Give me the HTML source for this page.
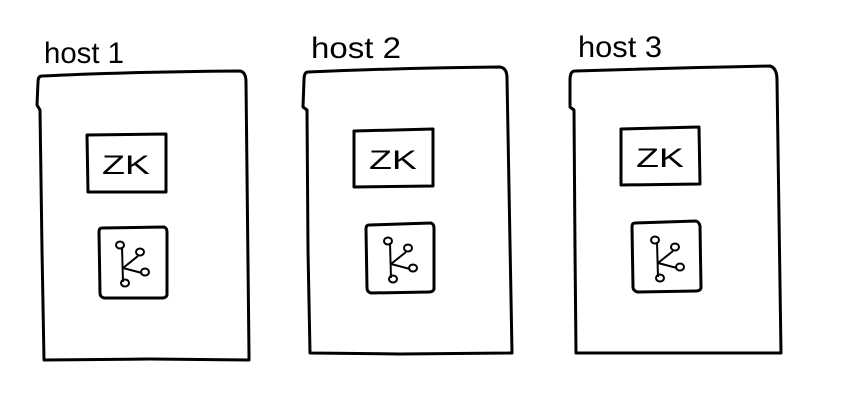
<!DOCTYPE html>
<html><head><style>
html,body{margin:0;padding:0;background:#fff;}
svg{display:block;}
text{font-family:"Liberation Sans",sans-serif;fill:#000;}
</style></head><body>
<svg width="851" height="406" viewBox="0 0 851 406" xmlns="http://www.w3.org/2000/svg">
<g fill="none" stroke="#000" stroke-width="3" stroke-linejoin="round" stroke-linecap="round">
<path d="M42,76 Q120,72 240,71 Q246,72 246,82 L249,355 L249,360 L150,359 L44,360 L42,250 L40,110 L37,105 L38,82 Q38,76 42,76 Z"/>
<path d="M87,135 L166,134 L166,192 L88,192 Z"/>
<path d="M102,228 L164,227 Q167,228 167,232 L167,295 Q166,298 162,298 L104,298 Q100,297 100,293 L99,232 Q99,228 102,228 Z"/>
<path d="M308,72 Q400,68 500,67 Q507,68 507,78 L512,353 L400,354 L310,353 L308,250 L307,110 L303,107 L304,80 Q304,72 308,72 Z"/>
<path d="M354,131 L433,129 L433,186 L354,187 Z"/>
<path d="M369,225 L431,223 Q434,224 434,228 L434,289 Q433,292 429,292 L371,293 Q367,292 367,288 L366,229 Q366,225 369,225 Z"/>
<path d="M575,71 Q670,68 770,66 Q777,68 777,80 L781,353 L680,353 L576,353 L575,250 L574,110 L570,107 L570,80 Q570,71 575,71 Z"/>
<path d="M621,129 L699,127 L700,184 L621,185 Z"/>
<path d="M635,223 L696,221 Q699,222 700,226 L701,288 Q700,291 696,291 L638,292 Q633,291 633,287 L632,227 Q632,223 635,223 Z"/>
</g>
<g fill="none" stroke="#000" stroke-width="2">
<g>
<path d="M122,247 L123,282 M123,268 L138,256 M123,268 L142,273"/>
<ellipse cx="120" cy="245" rx="4" ry="3.5"/><ellipse cx="140" cy="252" rx="4" ry="3.5"/><ellipse cx="145" cy="272" rx="4" ry="3.5"/><ellipse cx="125" cy="283" rx="4" ry="3.5"/>
</g>
<g transform="translate(268,-4)">
<path d="M122,247 L123,282 M123,268 L138,256 M123,268 L142,273"/>
<ellipse cx="120" cy="245" rx="4" ry="3.5"/><ellipse cx="140" cy="252" rx="4" ry="3.5"/><ellipse cx="145" cy="272" rx="4" ry="3.5"/><ellipse cx="125" cy="283" rx="4" ry="3.5"/>
</g>
<g transform="translate(535,-5)">
<path d="M122,247 L123,282 M123,268 L138,256 M123,268 L142,273"/>
<ellipse cx="120" cy="245" rx="4" ry="3.5"/><ellipse cx="140" cy="252" rx="4" ry="3.5"/><ellipse cx="145" cy="272" rx="4" ry="3.5"/><ellipse cx="125" cy="283" rx="4" ry="3.5"/>
</g>
</g>
<text x="102" y="174" font-size="27" textLength="48" lengthAdjust="spacingAndGlyphs">ZK</text>
<text x="369" y="169" font-size="27" textLength="48" lengthAdjust="spacingAndGlyphs">ZK</text>
<text x="636" y="167" font-size="27" textLength="48" lengthAdjust="spacingAndGlyphs">ZK</text>
<text x="44" y="63" font-size="30" textLength="80" lengthAdjust="spacingAndGlyphs">host 1</text>
<text x="311" y="58" font-size="30" textLength="90" lengthAdjust="spacingAndGlyphs">host 2</text>
<text x="578" y="57" font-size="30" textLength="84" lengthAdjust="spacingAndGlyphs">host 3</text>
</svg>
</body></html>
